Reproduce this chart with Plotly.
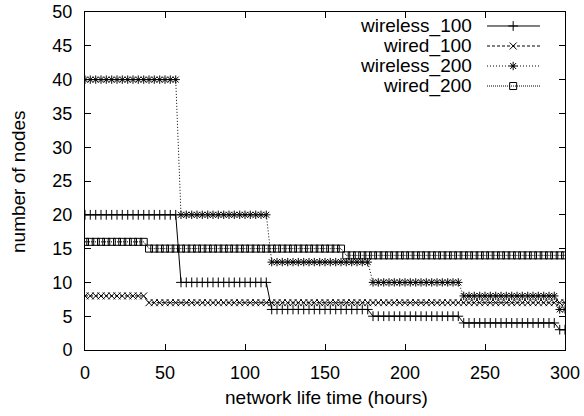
import plotly.graph_objects as go

# ---- data ----
TIME = [0, 3.3, 6.7, 10, 13.3, 16.7, 20, 23.3, 26.7, 30,
        33.3, 36.7, 40, 43.3, 46.7, 50, 53.3, 56.7, 60, 63.3,
        66.7, 70, 73.3, 76.7, 80, 83.3, 86.7, 90, 93.3, 96.7,
        100, 103.3, 106.7, 110, 113.3, 116.7, 120, 123.3, 126.7, 130,
        133.3, 136.7, 140, 143.3, 146.7, 150, 153.3, 156.7, 160, 163.3,
        166.7, 170, 173.3, 176.7, 180, 183.3, 186.7, 190, 193.3, 196.7,
        200, 203.3, 206.7, 210, 213.3, 216.7, 220, 223.3, 226.7, 230,
        233.3, 236.7, 240, 243.3, 246.7, 250, 253.3, 256.7, 260, 263.3,
        266.7, 270, 273.3, 276.7, 280, 283.3, 286.7, 290, 293.3, 296.7,
        300]
WIRELESS_100 = [20] * 18 + [10] * 17 + [6] * 19 + [5] * 17 + [4] * 18 + [3] * 2
WIRED_100 = [8] * 12 + [7] * 79
WIRELESS_200 = [40] * 18 + [20] * 17 + [13] * 19 + [10] * 17 + [8] * 18 + [6] * 2
WIRED_200 = [16] * 12 + [15] * 37 + [14] * 42

SERIES_NAMES = ["wireless_100", "wired_100", "wireless_200", "wired_200"]
X_TICKS = [0, 50, 100, 150, 200, 250, 300]
Y_TICKS = [0, 5, 10, 15, 20, 25, 30, 35, 40, 45, 50]

# ---- styles ----
FONT = "Liberation Sans, Arial, Helvetica, sans-serif"
STYLES = [
    dict(symbol="cross-thin-open", dash="solid"),
    dict(symbol="x-thin-open", dash="3px,2px"),
    dict(symbol="asterisk-open", dash="1px,2px"),
    dict(symbol="square-open", dash="1px,1px"),
]
VALUES = [WIRELESS_100, WIRED_100, WIRELESS_200, WIRED_200]

fig = go.Figure()
for name, vals, st in zip(SERIES_NAMES, VALUES, STYLES):
    fig.add_trace(go.Scatter(
        x=TIME, y=vals, name=name, mode="lines+markers",
        line=dict(color="black", width=1, dash=st["dash"]),
        marker=dict(symbol=st["symbol"], size=7, color="black",
                    line=dict(color="black", width=1)),
        showlegend=False,
    ))

# ---- manual legend (text left, sample right, like gnuplot's key) ----
LEG_TEXT_X = 0.81
LEG_LINE_X = [0.8375, 0.948]
LEG_MARK_X = 0.892
LEG_ROWS_Y = [0.9586, 0.8994, 0.8402, 0.781]
annotations = []
for name, st, ly in zip(SERIES_NAMES, STYLES, LEG_ROWS_Y):
    fig.add_trace(go.Scatter(
        x=LEG_LINE_X, y=[ly, ly], mode="lines", xaxis="x2", yaxis="y2",
        line=dict(color="black", width=1, dash=st["dash"]),
        showlegend=False, hoverinfo="skip"))
    fig.add_trace(go.Scatter(
        x=[LEG_MARK_X], y=[ly], mode="markers", xaxis="x2", yaxis="y2",
        marker=dict(symbol=st["symbol"], size=7, color="black",
                    line=dict(color="black", width=1)),
        showlegend=False, hoverinfo="skip"))
    annotations.append(dict(
        x=LEG_TEXT_X, y=ly, xref="paper", yref="paper", text=name,
        showarrow=False, xanchor="right", yanchor="middle",
        font=dict(family=FONT, size=19, color="black")))

annotations.append(dict(
    x=0.504, y=-0.142, xref="paper", yref="paper",
    text="network life time (hours)", showarrow=False,
    xanchor="center", yanchor="middle",
    font=dict(family=FONT, size=19, color="black")))
annotations.append(dict(
    x=-0.1396, y=0.5, xref="paper", yref="paper",
    text="number of nodes", showarrow=False, textangle=-90,
    xanchor="center", yanchor="middle",
    font=dict(family=FONT, size=19, color="black")))

axis_common = dict(
    showline=True, linecolor="black", linewidth=1, mirror="ticks",
    ticks="inside", ticklen=6, tickwidth=1, tickcolor="black",
    showgrid=False, zeroline=False, ticklabeloverflow="allow",
    tickfont=dict(family=FONT, size=18, color="black"),
)

fig.update_layout(
    width=584, height=416,
    margin=dict(l=85, r=19, t=12, b=66, autoexpand=False),
    paper_bgcolor="white", plot_bgcolor="white",
    xaxis=dict(range=[0, 300], tickvals=X_TICKS, ticklabelstandoff=6,
               **axis_common),
    yaxis=dict(range=[0, 50], tickvals=Y_TICKS, ticklabelstandoff=8,
               **axis_common),
    xaxis2=dict(overlaying="x", range=[0, 1], visible=False),
    yaxis2=dict(overlaying="y", range=[0, 1], visible=False),
    annotations=annotations,
    showlegend=False,
)

# remove the browser's default 8px body margin so the figure sits at (0, 0)
fig.write_html(
    "out.html",
    config={"displayModeBar": False, "staticPlot": True},
    post_script="document.body.style.margin='0';"
                "document.body.style.overflow='hidden';",
)
